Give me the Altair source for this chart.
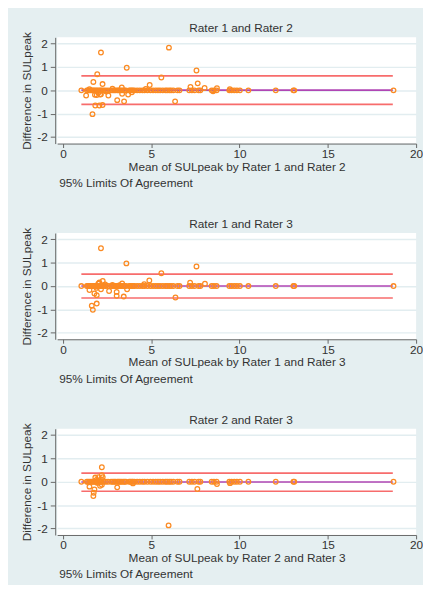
import altair as alt
import pandas as pd

TITLES = ["Rater 1 and Rater 2", "Rater 1 and Rater 3", "Rater 2 and Rater 3"]
X_TITLES = ["Mean of SULpeak by Rater 1 and Rater 2",
            "Mean of SULpeak by Rater 1 and Rater 3",
            "Mean of SULpeak by Rater 2 and Rater 3"]
NOTE = "95% Limits Of Agreement"
Y_TITLE = "Difference in SULpeak"
X_TICKS = [0, 5, 10, 15, 20]
Y_TICKS = [-2, -1, 0, 1, 2]

# means with (near) zero difference, shared by all three comparisons
ZERO_X = [1.04, 1.35, 1.42, 1.5, 1.58, 1.65, 1.72, 1.8, 1.88, 1.96, 2.05, 2.12,
          2.2, 2.3, 2.42, 2.55, 2.72, 2.82, 2.9, 2.98, 3.08, 3.15, 3.22, 3.3,
          3.4, 3.48, 3.56, 3.75, 3.82, 3.9, 3.96, 4.05, 4.2, 4.35, 4.5, 4.62,
          4.78, 4.95, 5.1, 5.25, 5.38, 5.5, 5.65, 5.8, 5.9, 6.02, 6.12, 6.25,
          6.48, 6.6, 7.15, 7.3, 7.45, 7.68, 7.78, 8.42, 8.55, 8.7, 9.42, 9.55,
          9.7, 9.85, 10.02, 10.5, 12.05, 13.05, 13.1, 18.72]

# non-zero differences per comparison
P1_X = [2.15, 6.0, 3.61, 1.94, 7.56, 5.57, 1.72, 2.24, 7.63, 4.91, 3.33, 7.22,
        8.02, 8.72, 4.69, 1.31, 1.81, 2.57, 3.07, 3.46, 3.69, 6.35, 1.83, 2.06,
        2.24, 1.67, 1.91, 2.1, 2.8, 3.9, 2.0, 1.5, 2.45, 9.45, 8.5, 3.35, 2.15]
P1_D = [1.62, 1.83, 0.97, 0.69, 0.85, 0.55, 0.36, 0.27, 0.30, 0.23, 0.13, 0.15,
        0.10, 0.09, 0.06, -0.22, -0.19, -0.22, -0.42, -0.47, -0.18, -0.47, -0.65, -0.65,
        -0.63, -1.02, -0.20, -0.18, 0.07, -0.08, -0.10, 0.05, -0.05, 0.05, -0.04, -0.15, -0.17]

P2_X = [2.15, 3.59, 7.56, 5.57, 4.89, 7.2, 8.04, 3.35, 2.25, 2.06, 2.39, 2.61,
        1.5, 2.15, 3.04, 3.04, 3.44, 3.63, 6.37, 1.78, 1.91, 1.63, 1.69, 1.91,
        2.8, 2.0, 1.9, 4.6, 3.2]
P2_D = [1.62, 0.97, 0.84, 0.55, 0.24, 0.14, 0.10, 0.11, 0.22, 0.15, 0.07, -0.21,
        -0.17, -0.14, -0.42, -0.25, -0.45, -0.14, -0.49, -0.32, -0.39, -0.84, -1.02, -0.75,
        0.05, 0.10, -0.08, 0.08, 0.04]

P3_X = [2.2, 2.2, 2.25, 1.83, 2.0, 1.9, 1.5, 1.78, 1.74, 1.72, 2.2, 2.1,
        3.07, 7.61, 8.72, 9.46, 5.98, 3.96, 1.95, 2.15]
P3_D = [0.62, 0.28, 0.20, 0.18, 0.20, 0.08, -0.21, -0.33, -0.47, -0.61, -0.13, -0.17,
        -0.24, -0.31, -0.10, -0.06, -1.87, -0.07, -0.05, 0.10]

PX = [P1_X, P2_X, P3_X]
PD = [P1_D, P2_D, P3_D]

LOA_UPPER = [0.62, 0.51, 0.37]
LOA_LOWER = [-0.60, -0.51, -0.41]
MEAN_DIFF = [0.01, 0.0, -0.01]
LINE_X = [1.04, 18.68]

ORANGE = "#fb8a22"
RED = "#f76c6c"
PURPLE = "#b046b4"
BG = "#e5eff1"
TEXT = "#333333"
W, H = 365, 108


def panel(i):
    pts = pd.DataFrame({"m": ZERO_X + PX[i], "d": [0.0] * len(ZERO_X) + PD[i]})
    lines = pd.DataFrame({
        "m": [LINE_X[0]] * 3,
        "m2": [LINE_X[1]] * 3,
        "d": [LOA_UPPER[i], MEAN_DIFF[i], LOA_LOWER[i]],
        "kind": ["loa", "mean", "loa2"],
    })
    xs = alt.Scale(domain=[-0.33, 20.0], nice=False, zero=False)
    ys = alt.Scale(domain=[-2.28, 2.27], nice=False, zero=False)
    xaxis = alt.Axis(values=X_TICKS, title=X_TITLES[i], grid=False, tickSize=4,
                     labelPadding=1, titlePadding=2, domainColor="#666666",
                     tickColor="#666666", labelFlush=False)
    yaxis = alt.Axis(values=Y_TICKS, title=Y_TITLE, grid=True, gridColor="#e2edf0",
                     gridWidth=1.5, tickSize=5, labelPadding=3, titlePadding=3,
                     offset=2, domainColor="#666666", tickColor="#666666",
                     labelAngle=0,
                     labelExpr="datum.value < 0 ? '-' + abs(datum.value) : '' + datum.value")
    rules = alt.Chart(lines).mark_rule(strokeWidth=1.6).encode(
        x=alt.X("m:Q", scale=xs, axis=xaxis),
        x2="m2:Q",
        y=alt.Y("d:Q", scale=ys, axis=yaxis),
        color=alt.Color("kind:N", scale=alt.Scale(domain=["loa", "mean", "loa2"],
                                                  range=[RED, PURPLE, RED]), legend=None),
    )
    points = alt.Chart(pts).mark_point(shape="circle", filled=False, size=22,
                                        strokeWidth=1.3, color=ORANGE, opacity=1).encode(
        x=alt.X("m:Q", scale=xs, axis=xaxis),
        y=alt.Y("d:Q", scale=ys, axis=yaxis),
    )
    title = alt.Chart(pd.DataFrame({"t": [TITLES[i]]})).mark_text(
        fontSize=12, baseline="middle", align="center", color=TEXT).encode(
        text="t:N", x=alt.value(187), y=alt.value(-9))
    note = alt.Chart(pd.DataFrame({"t": [NOTE]})).mark_text(
        fontSize=12, baseline="middle", align="left", color=TEXT).encode(
        text="t:N", x=alt.value(2), y=alt.value(148))
    return alt.layer(rules, points, title, note).properties(width=W, height=H)


chart = alt.vconcat(panel(0), panel(1), panel(2), spacing=30).properties(
    background=BG,
    padding={"left": 13, "top": 10, "right": 0, "bottom": 0},
).configure(font="Liberation Sans").configure_view(
    fill="white", strokeWidth=0
).configure_axis(
    labelFontSize=12, titleFontSize=12, titleFontWeight="normal",
    labelColor=TEXT, titleColor=TEXT,
)

chart.save("out.html", embed_options={"renderer": "svg", "actions": False})
